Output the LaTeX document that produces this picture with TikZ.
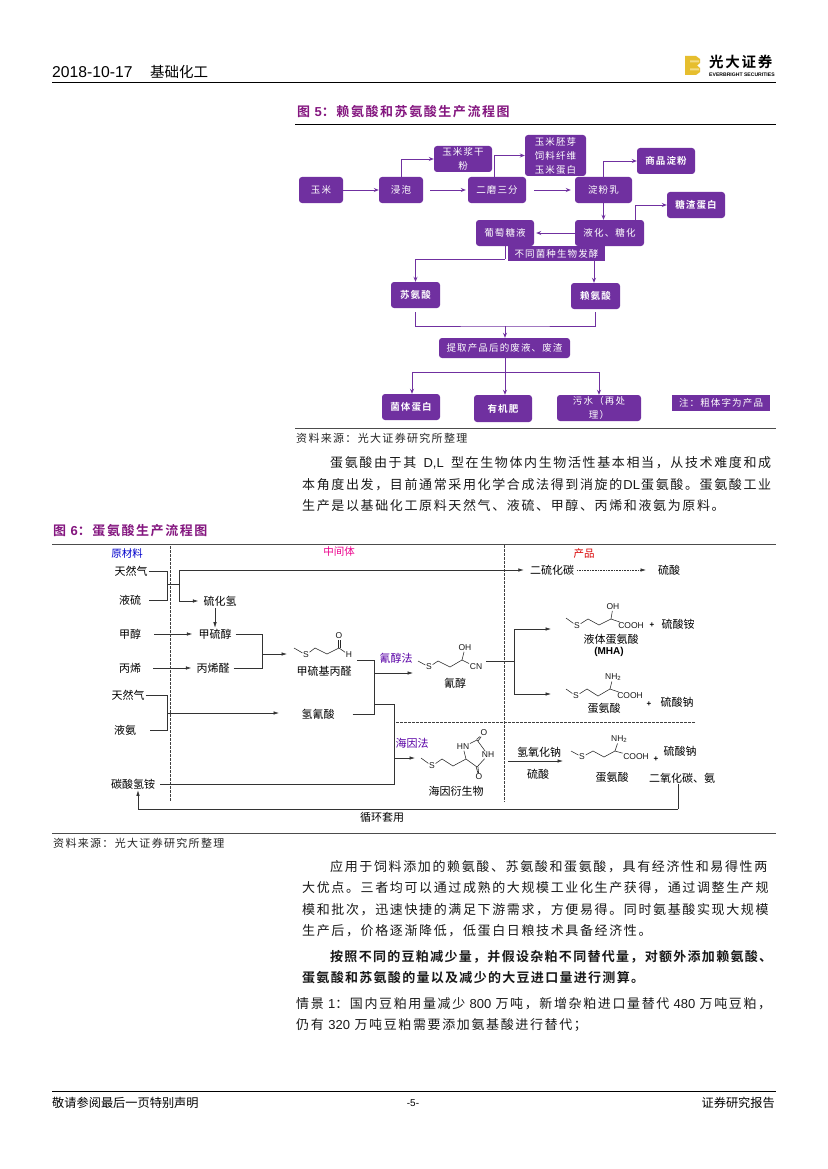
\documentclass[tikz,border=0pt]{standalone}
\usepackage{fontspec}
\setmainfont{Liberation Sans}
\newfontfamily\cjk{Noto Sans CJK SC}
\newfontfamily\bodyf[LetterSpace=12.5]{Noto Sans CJK SC}
\newfontfamily\bodyb[LetterSpace=10]{Noto Sans CJK SC Bold}
\newfontfamily\boxf[LetterSpace=12]{Noto Sans CJK SC}
\newfontfamily\boxb[LetterSpace=12]{Noto Sans CJK SC Bold}
\newfontfamily\titlef[LetterSpace=12]{Noto Sans CJK SC Bold}
\newfontfamily\lat{Liberation Sans}
\usetikzlibrary{arrows.meta,calc}
\definecolor{boxp}{HTML}{7030A0}
\definecolor{titlep}{HTML}{84167F}
\definecolor{logoy}{HTML}{E6BE2E}
\definecolor{logol}{HTML}{F3DC85}
\newcommand{\fsz}[1]{\fontsize{#1}{#1}\selectfont}
\newcommand{\bsz}{\fontsize{9.5}{14}\selectfont}
\newcommand{\gp}{\hspace{0pt plus 1fil}}
\newcommand{\nhtwo}{NH\raisebox{-1.6pt}{\fontsize{6}{6}\selectfont 2}}
\tikzset{
  pbox/.style={fill=boxp,rounded corners=3pt,text=white,inner sep=0pt,align=center,font=\bsz\boxf},
  pboxb/.style={pbox,font=\bsz\boxb},
  psq/.style={pbox,rounded corners=0pt},
  parr/.style={draw=boxp,line width=0.9pt,-{Stealth[length=5pt,width=4pt]}},
  pline/.style={draw=boxp,line width=0.9pt},
  lab/.style={inner sep=1pt,font=\fsz{11}\cjk,text=black},
  gline/.style={draw=black!80,line width=0.6pt},
  garr/.style={gline,-{Latex[length=5.5pt,width=3.5pt]}},
  vdash/.style={draw=black!75,line width=0.6pt,dash pattern=on 2.5pt off 1.5pt},
  bond/.style={draw=black!85,line width=0.55pt},
  atom/.style={inner sep=0.6pt,font=\fsz{8.5}\lat,text=black!90},
  rulek/.style={draw=black,line width=0.8pt},
  rulel/.style={draw=black!70,line width=0.9pt},
  para/.style={anchor=west,inner sep=0pt,font=\fsz{13}\bodyf,text=black!90},
  parab/.style={para,font=\fsz{13}\bodyb},
  src/.style={anchor=west,inner sep=0pt,font=\fsz{11}\boxf,text=black!85},
  figt/.style={anchor=west,inner sep=0pt,font=\fsz{13}\titlef,text=titlep},
}
\begin{document}
\begin{tikzpicture}[x=1pt,y=-1pt]
\useasboundingbox (0,0) rectangle (827,1169);
\fill[white] (0,0) rectangle (827,1169);
% ---------- header
\node[anchor=west,inner sep=0pt,font=\fsz{15.7}\lat] (hdate) at (52,72) {2018-10-17};
\node[anchor=west,inner sep=0pt,font=\fsz{14.5}\cjk] (hname) at (150,72) {基础化工};
\draw[rulek] (52,82.5) -- (776,82.5);
\fill[logoy] (685,56) -- (696,56) -- (700,59) -- (700,63) -- (697,65.5) -- (700,68) -- (700,72) -- (696,75) -- (685,75) -- cycle;
\fill[logol] (690,60.5) rectangle (699,62.5) (690,68.5) rectangle (699,70.5);
\node[anchor=west,inner sep=0pt,font=\fsz{14.5}\titlef] (hlogo) at (709,62) {光大证券};
\node[anchor=west,inner sep=0pt,font=\fsz{5.1}\bfseries] (hlogoen) at (709,75) {EVERBRIGHT SECURITIES};
% ---------- figure 5
\node[figt] (t5) at (297,112) {图 {\lat\bfseries 5}：赖氨酸和苏氨酸生产流程图};
\draw[rulek] (295,124) -- (776,124);
\node[pbox,minimum width=44pt,minimum height=26pt] (ym) at (321,190) {玉米};
\node[pbox,minimum width=44pt,minimum height=26pt] (jp) at (401,190) {浸泡};
\node[pbox,minimum width=58pt,minimum height=26pt] (jg) at (463,159) {玉米浆干\\粉};
\node[pbox,minimum width=58pt,minimum height=26pt] (em) at (497,190) {二磨三分};
\node[pbox,minimum width=61pt,minimum height=41pt] (pj) at (555.5,155.5) {玉米胚芽\\饲料纤维\\玉米蛋白};
\node[pbox,minimum width=57pt,minimum height=26pt] (df) at (603.5,190) {淀粉乳};
\node[pboxb,minimum width=58pt,minimum height=26pt] (sp) at (666,161) {商品淀粉};
\node[pboxb,minimum width=58pt,minimum height=26pt] (tz) at (696,205) {糖渣蛋白};
\node[pbox,minimum width=69pt,minimum height=26pt] (yh) at (609.5,233) {液化、糖化};
\node[pbox,minimum width=58pt,minimum height=26pt] (pt) at (505,233) {葡萄糖液};
\node[psq,minimum width=97pt,minimum height=15pt] (bt) at (556.5,253.5) {不同菌种生物发酵};
\node[pboxb,minimum width=49pt,minimum height=26pt] (sa) at (415.5,295) {苏氨酸};
\node[pboxb,minimum width=49pt,minimum height=26pt] (la) at (595.5,296) {赖氨酸};
\node[pbox,minimum width=131pt,minimum height=20pt] (tq) at (504.5,348) {提取产品后的废液、废渣};
\node[pboxb,minimum width=58pt,minimum height=26pt] (jt) at (411,407) {菌体蛋白};
\node[pboxb,minimum width=58pt,minimum height=27pt] (yj) at (503,408.5) {有机肥};
\node[pbox,minimum width=84pt,minimum height=26pt] (ws) at (599,408) {污水（再处\\理）};
\node[psq,minimum width=98pt,minimum height=16pt] (zh) at (721,403) {注：粗体字为产品};
\draw[parr] (ym) -- (jp);
\draw[parr] (jp.north) |- (jg.west);
\draw[parr,shorten <=7pt,shorten >=2pt] (jp) -- (em);
\draw[parr] (em.north -| 494,0) |- (pj.west);
\draw[parr,shorten <=8pt,shorten >=4pt] (em) -- (df);
\draw[parr] (df.north) |- (sp.west);
\draw[parr] (df) -- (yh.north -| df);
\draw[parr] (yh.north -| 635,0) |- (tz.west);
\draw[parr,shorten >=2pt] (yh) -- (pt);
\coordinate (ptd) at (505,259);
\draw[pline] (pt) -- (ptd);
\draw[parr] (ptd) -| (sa.north);
\draw[parr] (bt.south -| 594,0) -- (la.north -| 594,0);
\coordinate (mg) at (505,326);
\draw[pline] ($(sa.south)+(0,4)$) |- (mg) -| ($(la.south)+(0,3)$);
\draw[parr] (mg) -- (tq.north -| mg);
\coordinate (sp2) at (505,372);
\draw[pline] (tq.south -| sp2) -- (sp2);
\draw[parr] (sp2) -| (jt.north -| 412,0);
\draw[parr] (sp2) -| (ws.north);
\draw[parr] (sp2) -- (yj.north -| sp2);
\draw[rulel] (295,428.5) -- (776,428.5);
\node[src] (s5) at (296,438) {资料来源：光大证券研究所整理};
% ---------- paragraph 1
\node[para] (p1) at (330,463) {\makebox[441pt][s]{蛋氨酸由于其\gp{\lat D,L}\gp 型在生物体内生物活性基本相当，从技术难度和成}};
\node[para] (p2) at (302,484.5) {\makebox[469pt][s]{本角度出发，目前通常采用化学合成法得到消旋的\gp{\lat DL}\gp 蛋氨酸。蛋氨酸工业}};
\node[para] (p3) at (302,506) {生产是以基础化工原料天然气、液硫、甲醇、丙烯和液氨为原料。};
% ---------- figure 6
\node[figt] (t6) at (53,531) {图 {\lat\bfseries 6}：蛋氨酸生产流程图};
\draw[rulel] (52,544) -- (776,544);
\node[lab,font=\fsz{10.5}\cjk,text=blue!80!black] (h1) at (127,553) {原材料};
\node[lab,font=\fsz{10.5}\cjk,text=magenta] (h2) at (339,552) {中间体};
\node[lab,font=\fsz{10.5}\cjk,text=red!85!black] (h3) at (584,554) {产品};
\coordinate (v1a) at (170,546); \coordinate (v1b) at (170,802);
\coordinate (v2a) at (504,545); \coordinate (v2b) at (504,802);
\coordinate (h1a) at (396,722); \coordinate (h1b) at (695,722);
\draw[vdash] (v1a) -- (v1b);
\draw[vdash] (v2a) -- (v2b);
\draw[vdash] (h1a) -- (h1b);
\node[lab] (tr1) at (131,571) {天然气};
\node[lab] (ls) at (130,600) {液硫};
\node[lab] (ec) at (552,570) {二硫化碳};
\node[lab] (lsu) at (669,570) {硫酸};
\node[lab] (hh) at (220,601) {硫化氢};
\node[lab] (jc) at (130,634) {甲醇};
\node[lab] (jl) at (215,634) {甲硫醇};
\node[lab] (bx) at (130,668) {丙烯};
\node[lab] (bq) at (213,668) {丙烯醛};
\node[lab] (jq) at (324,671) {甲硫基丙醛};
\node[lab] (tr2) at (128,695) {天然气};
\node[lab] (ya) at (125,730) {液氨};
\node[lab] (hq) at (318,714) {氢氰酸};
\node[lab] (ts) at (133,784) {碳酸氢铵};
\node[lab] (xh) at (382,817) {循环套用};
\node[lab,text=violet!70!blue] (qc) at (396,658) {氰醇法};
\node[lab,text=violet!70!blue] (hy) at (412,743) {海因法};
\node[lab] (qcn) at (455,683) {氰醇};
\node[lab] (hyd) at (456,791) {海因衍生物};
\node[lab] (nl) at (539,752) {氢氧化钠};
\node[lab] (sl) at (538,774) {硫酸};
\node[lab] (ys) at (678,624) {硫酸铵};
\node[lab] (mha) at (611,639) {液体蛋氨酸};
\node[lab,font=\fsz{10}\lat\bfseries] (mha2) at (609,652) {(MHA)};
\node[lab] (na1) at (677,702) {硫酸钠};
\node[lab] (da1) at (604,708) {蛋氨酸};
\node[lab] (na2) at (680,751) {硫酸钠};
\node[lab] (da2) at (612,777) {蛋氨酸};
\node[lab] (co) at (682,778) {二氧化碳、氨};
\node[lab,font=\fsz{8}\lat\bfseries] (pl1) at (652,625) {+};
\node[lab,font=\fsz{8}\lat\bfseries] (pl2) at (649,704) {+};
\node[lab,font=\fsz{8}\lat\bfseries] (pl3) at (656,759) {+};
% raw-material brackets
\coordinate (j1) at (167,584); \coordinate (j1b) at (179,584);
\draw[gline] (tr1.east) -| (j1);
\draw[gline,shorten <=7pt] (ls.east) -| (j1);
\draw[gline] (j1) -- (j1b);
\draw[garr,shorten >=5pt] (j1b) |- (ec.west);
\draw[garr,shorten >=4pt] (j1b) |- (hh.west);
\draw[garr,densely dotted] (ec.east) ++(2,0) -- (646,570);
\draw[garr,shorten <=1pt] (hh.south -| jl) -- (jl.north);
\coordinate (a1) at (154,634); \coordinate (a2) at (153,668);
\draw[garr,shorten >=5pt] (a1) -- (jl.west);
\draw[garr,shorten >=4pt] (a2) -- (bq.west);
\coordinate (j2) at (262,654);
\draw[gline,shorten <=3pt] (jl.east) -| (j2);
\draw[gline,shorten <=3pt] (bq.east) -| (j2);
\draw[garr] (j2) -- (287,654);
% aldehyde
\node[atom] (s1) at (306,655) {S};
\node[atom] (o1) at (339,636) {O};
\node[atom] (h1a1) at (349,655) {H};
\draw[bond] (294,648) -- (s1) -- (315,648) -- (327,654) -- (339,648) -- (h1a1);
\draw[bond] (338.2,648) -- (338.2,640) (340,648) -- (340,640);
% cyanohydrin branch
\coordinate (j3) at (374,673); \coordinate (j4) at (374,704); \coordinate (j5) at (394,704); \coordinate (j6) at (394,758);
\draw[gline] (357,660) -| (j3);
\draw[gline] (j3) -- (j4);
\draw[gline,shorten <=17pt] (hq.east) -| (j4);
\draw[garr] (j3) -- (413,673);
\draw[gline] (j4) -- (j5) -- (j6);
\draw[gline,shorten >=4pt] (j6) |- (ts.east);
\draw[garr] (j6) -- (415,758);
\coordinate (j7) at (167,713);
\draw[gline] (tr2.east) -| (j7);
\draw[gline] (ya.east) ++(13,0) -| (j7);
\draw[garr] (j7) -- (279,713);
% cyanohydrin molecule
\node[atom] (s2) at (429,667) {S};
\node[atom] (oh2) at (465,648) {OH};
\node[atom] (cn2) at (476,667) {CN};
\draw[bond] (418,661) -- (s2) -- (438,661) -- (450,667) -- (462,660) -- (cn2);
\draw[bond] (462,660) -- (oh2);
% products split
\coordinate (j8) at (514,661);
\draw[gline] (486,661) -- (j8);
\draw[garr] (j8) |- (551,629);
\draw[garr] (j8) |- (551,694);
% MHA
\node[atom] (s3) at (577,626) {S};
\node[atom] (oh3) at (613,607) {OH};
\node[atom] (co3) at (631,626) {COOH};
\draw[bond] (566,618) -- (s3) -- (588,619) -- (599,625) -- (611,619) -- (co3);
\draw[bond] (611,619) -- (oh3);
% methionine 1
\node[atom] (s4) at (576,696) {S};
\node[atom] (nh4) at (613,677) {\nhtwo};
\node[atom] (co4) at (630,696) {COOH};
\draw[bond] (566,689) -- (s4) -- (587,689) -- (598,696) -- (610,689) -- (co4);
\draw[bond] (610,689) -- (nh4);
% hydantoin
\node[atom] (s5a) at (432,766) {S};
\node[atom] (hn5) at (463,747) {HN};
\node[atom] (nh5) at (488,755) {NH};
\node[atom] (o5a) at (484,733) {O};
\node[atom] (o5b) at (479,777) {O};
\draw[bond] (421,758) -- (s5a) -- (442,759) -- (453,766) -- (466,759) -- (hn5) -- (477,740) -- (nh5) -- (477,767) -- (466,759);
\draw[bond] (476.5,739.5) -- (o5a) (478,741) -- (o5a);
\draw[bond] (476.2,767) -- (o5b) (478,767) -- (o5b);
% hydrolysis
\coordinate (a3) at (508,761); \coordinate (a4) at (563,761);
\draw[garr] (a3) -- (a4);
\node[atom] (s6) at (582,757) {S};
\node[atom] (nh6) at (619,739) {\nhtwo};
\node[atom] (co6) at (636,757) {COOH};
\draw[bond] (571,751) -- (s6) -- (593,751) -- (604,757) -- (615,751) -- (co6);
\draw[bond] (615,751) -- (nh6);
% recycle
\coordinate (r1) at (678,809); \coordinate (r2) at (138,809);
\draw[gline] (co.south -| r1) -- (r1);
\draw[garr] (r1) -- (r2) -- (ts.south -| r2);
\draw[rulel] (52,833) -- (776,833);
\node[src] (s6s) at (53,843) {资料来源：光大证券研究所整理};
% ---------- paragraph 2
\node[para] (q1) at (330,867) {应用于饲料添加的赖氨酸、苏氨酸和蛋氨酸，具有经济性和易得性两};
\node[para] (q2) at (302,888) {大优点。三者均可以通过成熟的大规模工业化生产获得，通过调整生产规};
\node[para] (q3) at (302,909.5) {模和批次，迅速快捷的满足下游需求，方便易得。同时氨基酸实现大规模};
\node[para] (q4) at (302,931) {生产后，价格逐渐降低，低蛋白日粮技术具备经济性。};
\node[parab] (q5) at (330,956.5) {按照不同的豆粕减少量，并假设杂粕不同替代量，对额外添加赖氨酸、};
\node[parab] (q6) at (302,978) {蛋氨酸和苏氨酸的量以及减少的大豆进口量进行测算。};
\node[para] (q7) at (296,1003.5) {\makebox[475pt][s]{情景\gp{\lat 1}：国内豆粕用量减少\gp{\lat 800}\gp 万吨，新增杂粕进口量替代\gp{\lat 480}\gp 万吨豆粕，}};
\node[para] (q8) at (296,1025) {仍有 {\lat 320} 万吨豆粕需要添加氨基酸进行替代；};
% ---------- footer
\draw[rulek] (52,1091.5) -- (776,1091.5);
\node[anchor=west,inner sep=0pt,font=\fsz{12.2}\cjk] (f1) at (52,1103) {敬请参阅最后一页特别声明};
\node[inner sep=0pt,font=\fsz{10}\lat] (f2) at (413,1103) {-5-};
\node[anchor=east,inner sep=0pt,font=\fsz{12.2}\cjk] (f3) at (775,1103) {证券研究报告};
\end{tikzpicture}
\end{document}
